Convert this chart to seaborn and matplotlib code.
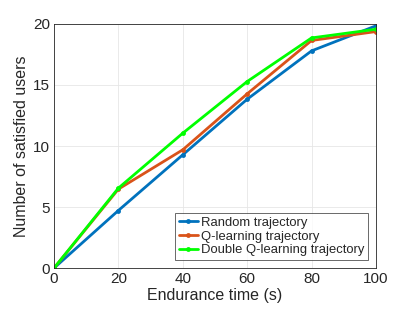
import numpy as np
import pandas as pd
import matplotlib
matplotlib.use("Agg")
import matplotlib.pyplot as plt
import seaborn as sns

# ── Data ─────────────────────────────────────────────────────────────
endurance_time = [0, 20, 40, 60, 80, 100]
random_traj = [0, 4.72, 9.28, 13.83, 17.79, 19.84]
qlearning_traj = [0, 6.47, 9.69, 14.27, 18.64, 19.37]
double_q_traj = [0, 6.55, 11.05, 15.28, 18.85, 19.56]

series_names = ["Random trajectory", "Q-learning trajectory", "Double Q-learning trajectory"]
colors = ["#0072BD", "#D95319", "#00FF00"]

df = pd.DataFrame({
    "time": endurance_time * 3,
    "users": random_traj + qlearning_traj + double_q_traj,
    "method": np.repeat(series_names, len(endurance_time)),
})

sns.set_style("whitegrid")
plt.rcParams["font.family"] = ["Liberation Sans", "DejaVu Sans"]

fig = plt.figure(figsize=(4.15, 3.14), dpi=100)
ax = fig.add_axes([0.130, 0.146, 0.776, 0.778])

sns.lineplot(data=df, x="time", y="users", hue="method", palette=colors,
             marker="o", markersize=3.5, markeredgewidth=0, linewidth=2,
             ax=ax, legend=True)

ax.set_xlim(0, 100)
ax.set_ylim(0, 20)
ax.set_xticks([0, 20, 40, 60, 80, 100])
ax.set_yticks([0, 5, 10, 15, 20])
ax.set_xlabel("Endurance time (s)", fontsize=11.5, color="#262626", labelpad=1)
ax.set_ylabel("Number of satisfied users", fontsize=11.5, color="#262626", labelpad=3)
ax.tick_params(axis="both", labelsize=11, colors="#262626", direction="in",
               length=3, width=0.6, pad=3)
ax.grid(True, color="#e6e6e6", linewidth=0.6)
for s in ax.spines.values():
    s.set_visible(True)
    s.set_color("#262626")
    s.set_linewidth(0.6)

leg = ax.legend(loc="lower right", fontsize=9.4, frameon=True, fancybox=False,
                handlelength=1.5, handletextpad=0.2, borderpad=0.3,
                labelspacing=0.12, borderaxespad=0.6)
leg.get_frame().set_edgecolor("#262626")
leg.get_frame().set_linewidth(0.6)

plt.savefig("out.png", dpi=100)
plt.close()
